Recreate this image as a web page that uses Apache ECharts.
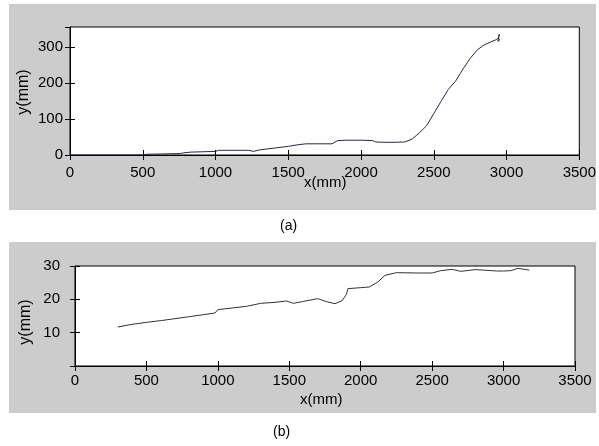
<!DOCTYPE html>
<html>
<head>
<meta charset="utf-8">
<script src="https://cdn.jsdelivr.net/npm/echarts@6/dist/echarts.min.js"></script>
<style>
  html, body { margin: 0; padding: 0; background: #fff; }
  #chart { width: 599px; height: 446px; }
</style>
</head>
<body>
<div id="chart"></div>
<script>
// (a) trajectory, x/y in mm
const topX = [0, 500, 520, 760, 780, 830, 1000, 1020, 1230, 1260, 1300, 1500, 1560, 1620, 1800, 1840, 1900, 2000, 2080, 2100, 2200, 2300, 2350, 2400, 2450, 2500, 2550, 2600, 2650, 2700, 2750, 2800, 2850, 2900, 2930, 2945, 2950, 2940, 2955, 2950];
const topY = [0, 0, 2, 4, 6, 8, 10, 13, 13, 10, 14, 24, 28, 31, 31, 40, 41, 41, 40, 36, 35, 36, 44, 61, 81, 115, 149, 182, 205, 238, 268, 292, 306, 315, 320, 325, 335, 315, 320, 322];

// (b) trajectory
const botX = [300, 400, 500, 600, 700, 800, 900, 980, 1000, 1100, 1200, 1300, 1400, 1480, 1530, 1600, 1700, 1760, 1820, 1870, 1900, 1910, 2000, 2060, 2120, 2170, 2250, 2400, 2500, 2560, 2640, 2700, 2800, 2850, 2950, 3000, 3050, 3100, 3130, 3180];
const botY = [11.7, 12.5, 13.1, 13.6, 14.2, 14.8, 15.4, 15.9, 16.9, 17.4, 17.9, 18.8, 19.1, 19.5, 18.8, 19.4, 20.2, 19.3, 18.7, 19.6, 21.5, 23.2, 23.5, 23.7, 25.2, 27.2, 28.0, 27.9, 27.9, 28.6, 29.0, 28.4, 28.9, 28.8, 28.5, 28.5, 28.6, 29.3, 29.1, 28.8];

const xTicks = [0, 3500, 500];      // min, max, interval
const topYTicks = [0, 355, 100];
const botYTicks = [0, 30, 10];

const pairs = (xs, ys) => xs.map((x, i) => [x, ys[i]]);

const tickFont = {
  color: "#000",
  fontFamily: "'Liberation Sans', Arial",
  fontSize: 15,
  formatter: v => String(v)
};
const nameFont = "'Liberation Sans', Arial";

function valAxis(grid, ticks, extra) {
  return Object.assign({
    type: "value",
    gridIndex: grid,
    min: ticks[0],
    max: ticks[1],
    interval: ticks[2],
    splitLine: { show: false },
    axisLine: { show: true, onZero: false, lineStyle: { color: "#000", width: 1 } },
    axisTick: { show: true, inside: true, length: 5, lineStyle: { color: "#000" } },
    axisLabel: Object.assign({}, tickFont)
  }, extra);
}

function mirror(grid, ticks, pos) {
  return valAxis(grid, ticks, {
    position: pos,
    axisLine: { show: false },
    axisLabel: { show: false }
  });
}

let myChart = echarts.init(document.getElementById("chart"));
myChart.setOption({
  animation: false,
  backgroundColor: "#fff",
  graphic: [
    { type: "rect", z: -10, shape: { x: 9, y: 4, width: 587, height: 206 }, style: { fill: "#cccccc" } },
    { type: "rect", z: -10, shape: { x: 9, y: 242, width: 587, height: 171 }, style: { fill: "#cccccc" } },
    { type: "text", left: 280, top: 219, style: { text: "(a)", font: "14px " + nameFont, fill: "#000" } },
    { type: "text", left: 273, top: 425, style: { text: "(b)", font: "14px " + nameFont, fill: "#000" } },
    { type: "text", left: 304, top: 175, style: { text: "x(mm)", font: "15px " + nameFont, fill: "#000" } },
    { type: "text", left: 300, top: 392, style: { text: "x(mm)", font: "15px " + nameFont, fill: "#000" } },
    { type: "text", x: 24, y: 92, rotation: Math.PI / 2, style: { text: "y(mm)", font: "16px " + nameFont, fill: "#000", align: "center", verticalAlign: "middle" } },
    { type: "text", x: 26, y: 322, rotation: Math.PI / 2, style: { text: "y(mm)", font: "16px " + nameFont, fill: "#000", align: "center", verticalAlign: "middle" } }
  ],
  grid: [
    { left: 70, top: 27, width: 514, height: 128, show: true, backgroundColor: "#fff", borderColor: "#000", borderWidth: 1 },
    { left: 75, top: 266, width: 500, height: 100, show: true, backgroundColor: "#fff", borderColor: "#000", borderWidth: 1 }
  ],
  xAxis: [
    valAxis(0, xTicks, { position: "bottom", axisLabel: Object.assign({}, tickFont, { margin: 10 }) }),
    mirror(0, xTicks, "top"),
    valAxis(1, xTicks, { position: "bottom", axisLabel: Object.assign({}, tickFont, { margin: 7 }) }),
    mirror(1, xTicks, "top")
  ],
  yAxis: [
    valAxis(0, topYTicks, { position: "left", axisLabel: Object.assign({}, tickFont, { margin: 7, showMaxLabel: false }) }),
    mirror(0, topYTicks, "right"),
    valAxis(1, botYTicks, { position: "left", axisLabel: Object.assign({}, tickFont, { margin: 15, showMinLabel: false }) }),
    mirror(1, botYTicks, "right")
  ],
  series: [
    {
      type: "line",
      xAxisIndex: 0,
      yAxisIndex: 0,
      data: pairs(topX, topY),
      showSymbol: false,
      lineStyle: { color: "#262650", width: 1 }
    },
    {
      type: "line",
      xAxisIndex: 2,
      yAxisIndex: 2,
      data: pairs(botX, botY),
      showSymbol: false,
      lineStyle: { color: "#333333", width: 1 }
    }
  ]
});
</script>
</body>
</html>
